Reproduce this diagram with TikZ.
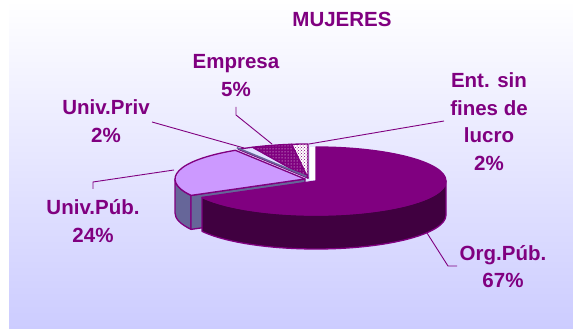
\documentclass[tikz,border=0pt]{standalone}
\usepackage{fontspec}
\setmainfont{Liberation Sans}
\usetikzlibrary{calc,patterns}
\definecolor{pur}{HTML}{800080}
\definecolor{purdark}{HTML}{400040}
\definecolor{lilac}{HTML}{CC99FF}
\definecolor{slate}{HTML}{666699}
\definecolor{pale}{HTML}{E0E0FF}
\definecolor{bgb}{HTML}{CCCCFF}
\begin{document}
\begin{tikzpicture}[x=1pt,y=1pt,
  lbl/.style={text=pur, font=\bfseries\fontsize{20.5}{27.5}\selectfont, align=center, inner sep=0pt},
  lead/.style={draw=pur, line width=0.9pt},
  slice/.style={draw=pur, line width=1.3pt, line join=round},
  ell/.style={x radius=130pt, y radius=34pt}]
\useasboundingbox (0,0) rectangle (573,329);
\fill[white] (0,0) rectangle (573,329);
\shade[top color=white, bottom color=bgb] (9,0) rectangle (573,329);

\coordinate (C0) at (305,150);
\coordinate (CS) at (308,151);
\coordinate (CO) at (316,148);

% back small slices
\path[slice, fill=pale] (CS) -- ($(CS)+(115.2:130pt and 34pt)$) arc[start angle=115.2, end angle=122.4, ell] -- cycle;
\path[slice, preaction={fill=pur}, preaction={pattern=dots, pattern color=white}]
  (CS) -- ($(CS)+(97.2:130pt and 34pt)$) arc[start angle=97.2, end angle=115.2, ell] -- cycle;
\path[slice, preaction={fill=white}, preaction={pattern=crosshatch dots, pattern color=pur}]
  (CS) -- ($(CS)+(90:130pt and 34pt)$) arc[start angle=90, end angle=97.2, ell] -- cycle;
\fill[white] (309.5,149) rectangle (316,182);
\draw[slate, line width=1.6pt] ($(C0)+(122.4:130pt and 34pt)+(1.5,2.6)$) -- ($(C0)+(1.5,2.6)$);

% Univ.Pub slice
\path[slice, fill=slate] ($(C0)+(180:130pt and 34pt)$) arc[start angle=180, end angle=208.8, ell]
  -- ++(0,-34) arc[start angle=208.8, end angle=180, ell] -- cycle;
\path[slice, fill=slate] (C0) -- ($(C0)+(208.8:130pt and 34pt)$) -- ++(0,-34) -- ($(C0)+(0,-34)$) -- cycle;
\path[slice, fill=lilac] (C0) -- ($(C0)+(122.4:130pt and 34pt)$) arc[start angle=122.4, end angle=208.8, ell] -- cycle;

% Org.Pub slice (exploded)
\path[slice, fill=purdark] ($(CO)+(208.8:130pt and 34pt)$) arc[start angle=208.8, end angle=360, ell]
  -- ++(0,-34) arc[start angle=360, end angle=208.8, ell] -- cycle;
\path[slice, fill=pur] (CO) -- ($(CO)+(90:130pt and 34pt)$) arc[start angle=90, end angle=-151.2, ell] -- cycle;

% labels
\node[lbl] (title) at (342,309.5) {MUJERES};
\node[lbl] (emp) at (236,253.5) {Empresa\\5\%};
\node[lbl] (priv) at (106,208) {Univ.Priv\\2\%};
\node[lbl] (ent) at (489,207.5) {Ent. sin\\fines de\\lucro\\2\%};
\node[lbl] (pub) at (93,108) {Univ.Púb.\\24\%};
\node[lbl] (org) at (503,62.5) {Org.Púb.\\67\%};

% leader lines
\coordinate (privA) at (152,207);
\coordinate (privB) at (244,181);
\coordinate (empA) at (236,222);
\coordinate (empK) at (236,214);
\coordinate (empB) at (272,185);
\coordinate (entA) at (444,208);
\coordinate (entB) at (309,185);
\coordinate (pubA) at (93,140);
\coordinate (pubK) at (93,147);
\coordinate (pubB) at (174,159);
\coordinate (orgA) at (427,96);
\coordinate (orgK) at (448,63);
\coordinate (orgB) at (457,63);
\draw[lead] (privA) -- (privB);
\draw[lead] (empA) -- (empK) -- (empB);
\draw[lead] (entA) -- (entB);
\draw[lead] (pubA) -- (pubK) -- (pubB);
\draw[lead] (orgA) -- (orgK) -- (orgB);
\end{tikzpicture}
\end{document}
